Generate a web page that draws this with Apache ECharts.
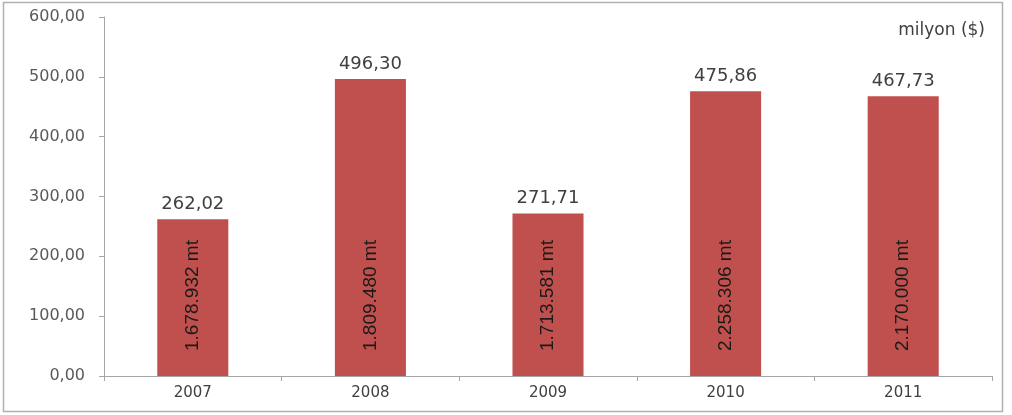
<!DOCTYPE html>
<html>
<head>
<meta charset="utf-8">
<script src="https://cdn.jsdelivr.net/npm/echarts@6/dist/echarts.min.js"></script>
<style>
  html, body { margin: 0; padding: 0; background: #fff; }
  #chart { width: 1012px; height: 415px; }
</style>
</head>
<body>
<div id="chart"></div>
<script>
// Years on the category axis
const years = ['2007', '2008', '2009', '2010', '2011'];
// Export value per year, million USD
const values = [262.02, 496.30, 271.71, 475.86, 467.73];
// Tonnage written inside each bar
const tonnage = ['1.678.932 mt', '1.809.480 mt', '1.713.581 mt', '2.258.306 mt', '2.170.000 mt'];
// Value axis range
const yMin = 0, yMax = 600, yStep = 100;
const unitLabel = 'milyon ($)';

const fmt = v => v.toFixed(2).replace('.', ',');

const chart = echarts.init(document.getElementById('chart'), null, { renderer: 'canvas' });
chart.setOption({
  animation: false,
  backgroundColor: '#ffffff',
  grid: { left: 104, right: 20, top: 17, bottom: 39 },
  graphic: [
    {
      type: 'rect',
      shape: { x: 3.5, y: 2.5, width: 999, height: 409 },
      style: { fill: 'none', stroke: '#b0b0b0', lineWidth: 1.5 },
      silent: true
    },
    {
      type: 'text',
      right: 27, top: 22,
      style: { text: unitLabel, font: '17px "DejaVu Sans"', fill: '#404040' }
    }
  ],
  xAxis: {
    type: 'category',
    data: years,
    axisLine: { lineStyle: { color: '#a6a6a6', width: 1 } },
    axisTick: { show: true, length: 5, lineStyle: { color: '#a6a6a6' } },
    axisLabel: { color: '#404040', fontFamily: 'DejaVu Sans', fontSize: 15, margin: 10 },
    splitLine: { show: false }
  },
  yAxis: {
    type: 'value',
    min: yMin, max: yMax, interval: yStep,
    axisLine: { show: true, lineStyle: { color: '#a6a6a6', width: 1 } },
    axisTick: { show: true, length: 5, lineStyle: { color: '#a6a6a6' } },
    axisLabel: { color: '#595959', fontFamily: 'DejaVu Sans', fontSize: 16, margin: 19, formatter: v => fmt(v) },
    splitLine: { show: false }
  },
  series: [
    {
      type: 'bar',
      data: values,
      barWidth: '40%',
      itemStyle: { color: '#c0504d' },
      label: {
        show: true,
        position: 'top',
        distance: 6,
        color: '#404040',
        fontFamily: 'DejaVu Sans',
        fontSize: 18,
        formatter: p => fmt(p.value)
      }
    },
    {
      type: 'bar',
      data: values,
      barWidth: '40%',
      barGap: '-100%',
      itemStyle: { color: 'rgba(0,0,0,0)' },
      label: {
        show: true,
        position: 'insideBottom',
        rotate: 90,
        align: 'left',
        verticalAlign: 'middle',
        distance: 25,
        color: '#1a1a1a',
        fontFamily: '"Liberation Sans Narrow", "Liberation Sans"',
        fontSize: 19,
        formatter: p => tonnage[p.dataIndex]
      },
      silent: true
    }
  ]
});
</script>
</body>
</html>
